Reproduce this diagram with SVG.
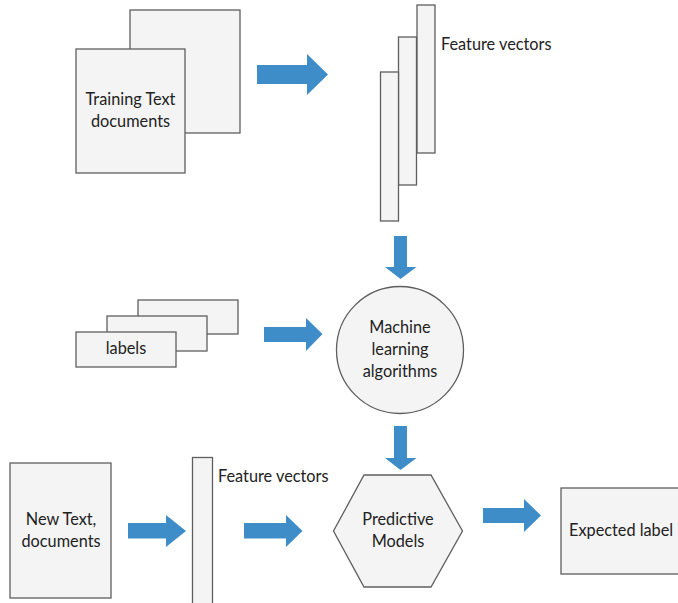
<svg xmlns="http://www.w3.org/2000/svg" width="678" height="603" viewBox="0 0 678 603">
<defs>
<style>
.box{fill:#f4f4f4;stroke:#5f5f5f;stroke-width:1.3}
.arrow{fill:#3f8dc8;stroke:none}
.t{font-family:Lato,"Open Sans","Liberation Sans",sans-serif;font-size:16.3px;fill:#222222}
.c{text-anchor:middle}
</style>
</defs>
<rect width="678" height="603" fill="#ffffff"/>
<g id="training-docs">
<rect class="box" x="130" y="10" width="110" height="123"/>
<rect class="box" x="76" y="49" width="109" height="124"/>
<text class="t c" x="130.5" y="105">Training Text</text>
<text class="t c" x="130.5" y="127">documents</text>
</g>
<g id="feature-vectors-top">
<rect class="box" x="417" y="5" width="18" height="148"/>
<rect class="box" x="398.5" y="37" width="18" height="148"/>
<rect class="box" x="380.5" y="72" width="18" height="149"/>
<text class="t" x="441" y="50">Feature vectors</text>
</g>
<g id="labels">
<rect class="box" x="138" y="300" width="100" height="34"/>
<rect class="box" x="107" y="316" width="100" height="35"/>
<rect class="box" x="76" y="332" width="100" height="35"/>
<text class="t c" x="126" y="354">labels</text>
</g>
<g id="ml-algorithms">
<circle class="box" cx="400" cy="350" r="63.5"/>
<text class="t c" x="400" y="333">Machine</text>
<text class="t c" x="400" y="355">learning</text>
<text class="t c" x="400" y="377">algorithms</text>
</g>
<g id="new-docs">
<rect class="box" x="10" y="463" width="101" height="135"/>
<text class="t c" x="61" y="525">New Text,</text>
<text class="t c" x="61" y="547">documents</text>
</g>
<g id="feature-vectors-bottom">
<rect class="box" x="192.5" y="457.5" width="20" height="150"/>
<text class="t" x="218" y="482">Feature vectors</text>
</g>
<g id="predictive-models">
<polygon class="box" points="364,475 431,475 462.5,531 431,587 364,587 333.5,531"/>
<text class="t c" x="398" y="525">Predictive</text>
<text class="t c" x="398" y="547">Models</text>
</g>
<g id="expected-label">
<rect class="box" x="561" y="488" width="120" height="86"/>
<text class="t" x="569" y="536">Expected label</text>
</g>
<g id="connectors">
<polygon class="arrow" points="257,65 307,65 307,54 328,74.5 307,95 307,84 257,84"/>
<polygon class="arrow" points="394,236 407,236 407,267 416.5,267 400.5,279 385,267 394,267"/>
<polygon class="arrow" points="264,327 306,327 306,318 322.5,334 306,351 306,342 264,342"/>
<polygon class="arrow" points="394,426 407,426 407,458 416.5,458 400.5,470 385,458 394,458"/>
<polygon class="arrow" points="128,523 166,523 166,515 186,531 166,547 166,538.5 128,538.5"/>
<polygon class="arrow" points="244,523 286,523 286,515 302.5,531 286,547 286,538.5 244,538.5"/>
<polygon class="arrow" points="483,508 524,508 524,499 541,515.5 524,532 524,523 483,523"/>
</g>
</svg>
